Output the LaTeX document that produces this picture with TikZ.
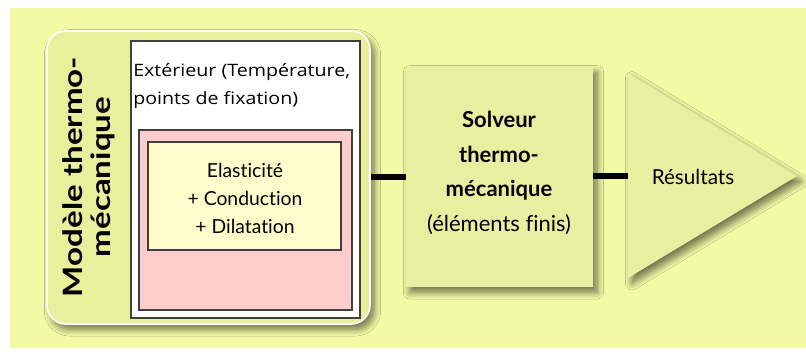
\documentclass[tikz,border=0pt]{standalone}
\usepackage{fontspec}
\setmainfont{Lato}[Ligatures={NoCommon}]
\newfontfamily\segoe{Open Sans}
\usetikzlibrary{fit,shadows.blur}
\definecolor{bgyellow}{HTML}{F3FAA6}
\definecolor{boxgreen}{HTML}{E7F0A0}
\definecolor{modelgreen}{HTML}{E8F09E}
\definecolor{pinkfill}{HTML}{FFCCCC}
\definecolor{paleyellow}{HTML}{FFFDCC}
\definecolor{frame}{HTML}{404040}
\newcommand{\wider}[2]{\scalebox{#1}[1]{#2}}
\tikzset{
  shade3d/.style={blur shadow={shadow xshift=3pt, shadow yshift=-4pt, shadow blur steps=10, shadow blur radius=5pt, shadow opacity=55}},
  modelbox/.style={fill=modelgreen, draw=white, line width=1.2pt, rounded corners=14pt, inner sep=0pt, shade3d},
  whitebox/.style={fill=white, draw=frame, line width=0.8pt, inner sep=0pt},
  pinkbox/.style={fill=pinkfill, draw=frame, line width=0.8pt, inner sep=0pt},
  innerbox/.style={fill=paleyellow, draw=frame, line width=0.8pt, inner sep=0pt},
  solverbox/.style={fill=boxgreen, draw=none, inner sep=0pt, shade3d},
  link/.style={line width=4.5pt, black},
}
\begin{document}
\begin{tikzpicture}[x=0.75pt,y=-0.75pt]
\useasboundingbox (0,0) rectangle (806,358);
\fill[white] (0,0) rectangle (806,358);
\fill[bgyellow] (10,8) rectangle (806,348);

% model block
\node[modelbox, fit={(47,31) (370,324)}] (model) {};
\node[whitebox, fit={(131,41) (360,318)}] (ext) {};
\node[pinkbox, fit={(139,130) (352,310)}] (pink) {};
\node[innerbox, fit={(148,142) (341,250)}] (inner) {};

\node[anchor=base west, align=left, inner sep=0pt, font=\segoe\fontsize{12.8pt}{21pt}\selectfont] (exttext) at (133,104) {\wider{1.15}{Extérieur (Température,}\\\wider{1.15}{points de fixation)}};

\node[align=center, inner sep=0pt, font=\fontsize{14.5pt}{21pt}\selectfont] (innertext) at (245,198) {Elasticité\\+ Conduction\\+ Dilatation};

\node[rotate=90, align=center, inner sep=0pt, font=\bfseries\fontsize{20pt}{21pt}\selectfont] (modeltext) at (89,177) {\wider{1.24}{Modèle thermo-}\\\wider{1.24}{mécanique}};

% solver
\node[solverbox, fit={(406,67) (593,287)}] (solver) {};
\node[align=center, inner sep=0pt, font=\fontsize{16.5pt}{26pt}\selectfont] (solvertext) at (499,173) {\textbf{Solveur}\\\textbf{thermo-}\\\textbf{mécanique}\\(éléments finis)};

% results triangle
\fill[boxgreen, shade3d] (628,73) -- (797,176) -- (628,278) -- cycle;
\coordinate (tri) at (628,176);
\node[inner sep=0pt, font=\fontsize{15.5pt}{17pt}\selectfont] (res) at (693,177) {Résultats};

% connectors
\draw[link] (model.east |- 0,177) -- (solver.west |- 0,177);
\draw[link] (solver.east |- tri) -- (tri);
\end{tikzpicture}
\end{document}
